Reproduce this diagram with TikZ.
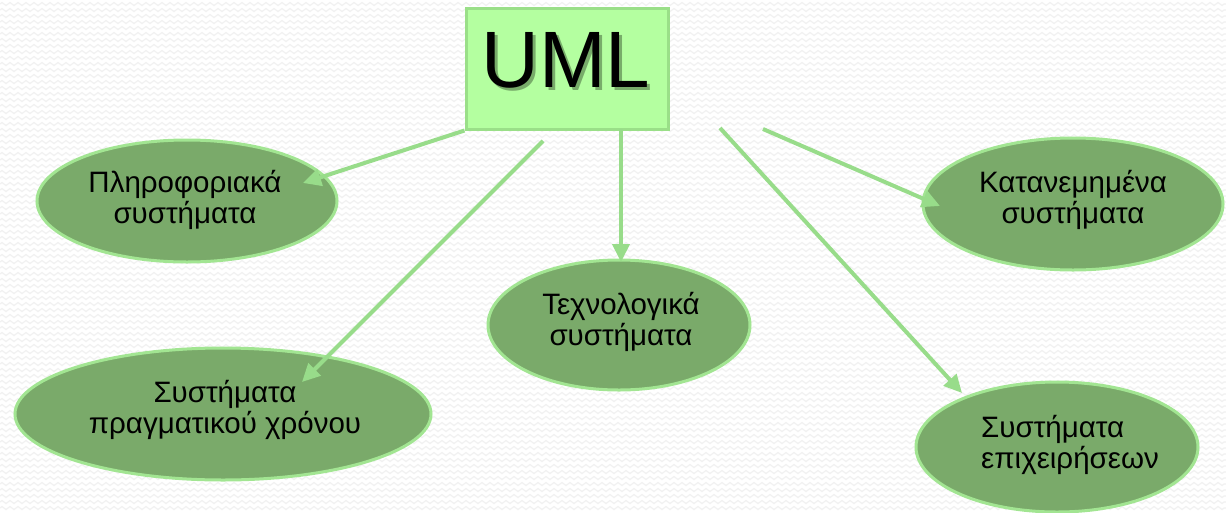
\documentclass[tikz,border=0pt]{standalone}
\usepackage{fontspec}
\setmainfont{Liberation Sans}
\usetikzlibrary{arrows.meta,shapes.geometric,decorations.pathmorphing}

\definecolor{boxfill}{HTML}{B4FFA0}
\definecolor{boxline}{HTML}{9ADF88}
\definecolor{ellfill}{HTML}{7AAA6A}
\definecolor{ellline}{HTML}{A2E592}
\definecolor{arrowcol}{HTML}{98DC8A}
\definecolor{umlshadow}{HTML}{78AC6A}
\definecolor{texture}{HTML}{F1F1F1}

\begin{document}
\begin{tikzpicture}[x=1pt,y=-1pt,
  topic/.style={ellipse, fill=ellfill, draw=ellline, line width=3pt, inner sep=0pt},
  topictext/.style={align=center, font=\fontsize{29.5}{31}\selectfont, inner sep=0pt},
  link/.style={draw=arrowcol, line width=4pt, -{Triangle[length=18pt,width=17pt]}},
  wave/.style={texture, line width=1.2pt, decorate,
    decoration={zigzag, segment length=8pt, amplitude=1.5pt}},
]
% page background with a faint wavy texture
\fill[white] (0,0) rectangle (1226,512);
\useasboundingbox (0,0) rectangle (1226,512);
\foreach \y in {4,10,...,510} \draw[wave] (0,\y) -- (1226,\y);

% topic ellipses
\node[topic, minimum width=300pt, minimum height=122pt] (info) at (187,201) {};
\node[topic, minimum width=300pt, minimum height=132pt] (distr) at (1073,204) {};
\node[topic, minimum width=262pt, minimum height=130pt] (tech) at (619,325) {};
\node[topic, minimum width=416pt, minimum height=132pt] (rt) at (223,414) {};
\node[topic, minimum width=282pt, minimum height=130pt] (biz) at (1057,447) {};

\node[topictext] (infot) at (185,200) {Πληροφοριακά\\συστήματα};
\node[topictext] (distrt) at (1073,200) {Κατανεμημένα\\συστήματα};
\node[topictext] (techt) at (621,322) {Τεχνολογικά\\συστήματα};
\node[topictext] (rtt) at (225,410) {Συστήματα\\πραγματικού χρόνου};
\node[topictext, align=left] (bizt) at (1070,445) {Συστήματα\\επιχειρήσεων};

% central box, its title with a soft green drop shadow
\node[draw=boxline, fill=boxfill, line width=3pt, minimum width=202pt,
      minimum height=121pt, inner sep=0pt] (uml) at (567,68.5) {};
\node[font=\fontsize{80}{80}\selectfont, inner sep=0pt] (umlt) at (566,62)
  {\rlap{\hspace{3pt}\raisebox{-3pt}{\color{umlshadow}UML}}UML};

% arrow ends
\coordinate (s2) at (543,141);
\coordinate (s3) at (621,129);
\coordinate (s4) at (720,128);
\coordinate (s5) at (763,129);
\coordinate (t1) at (303,183);
\coordinate (t2) at (302,382);
\coordinate (t3) at (621,262);
\coordinate (t4) at (962,393);
\coordinate (t5) at (940,206);

\draw[link] (uml.south west) -- (t1);
\draw[link] (s2) -- (t2);
\draw[link] (s3) -- (t3);
\draw[link] (s4) -- (t4);
\draw[link] (s5) -- (t5);
\end{tikzpicture}
\end{document}
